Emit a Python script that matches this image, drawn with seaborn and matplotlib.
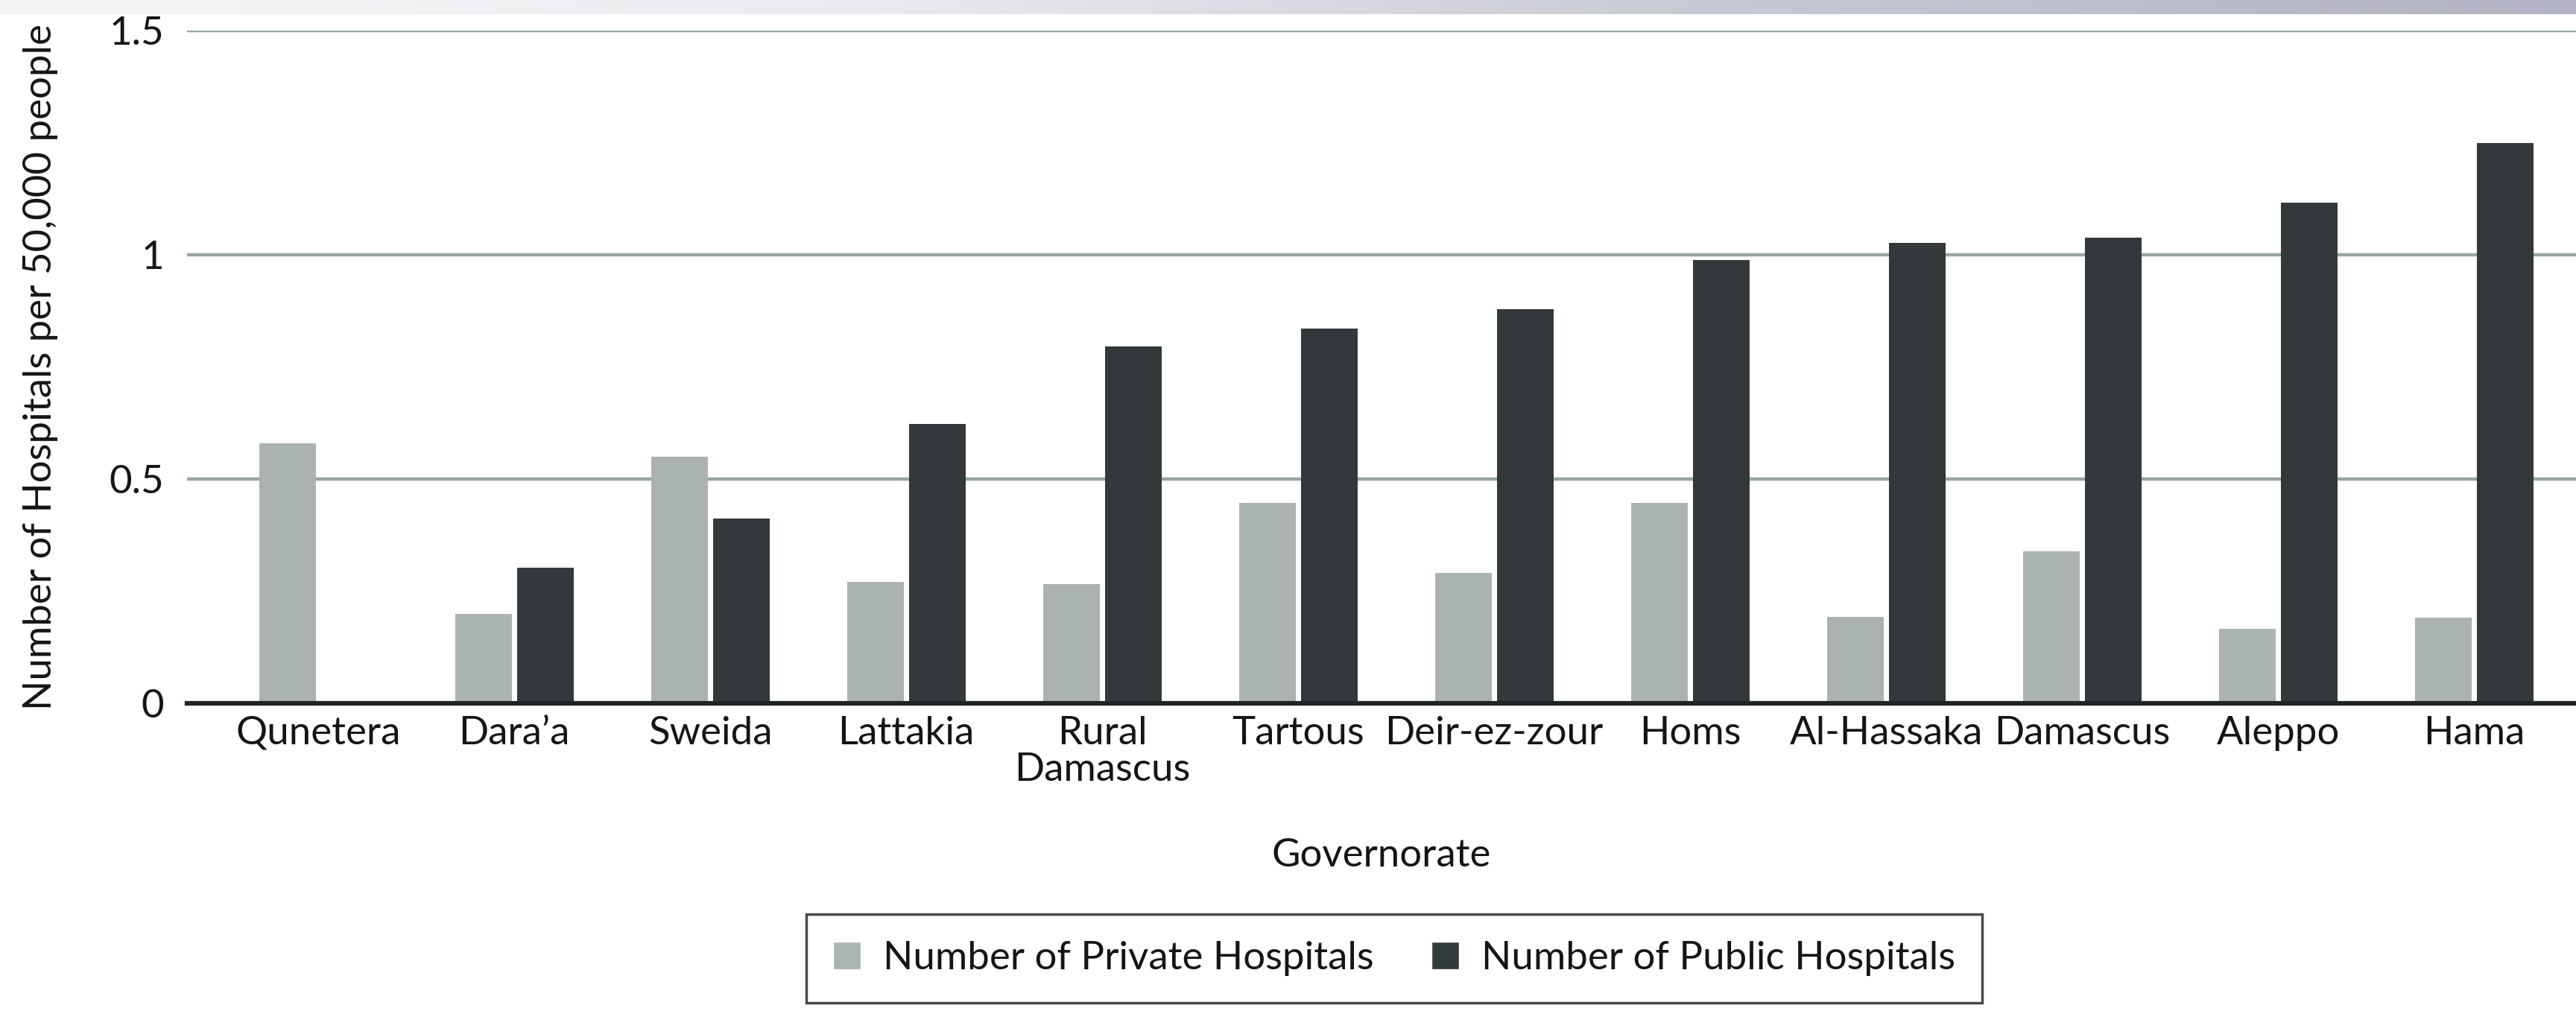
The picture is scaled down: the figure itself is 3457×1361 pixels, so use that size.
import numpy as np
import pandas as pd
import matplotlib
matplotlib.use("Agg")
import matplotlib.pyplot as plt
import seaborn as sns
from matplotlib.patches import Patch

governorates = ["Qunetera", "Dara’a", "Sweida", "Lattakia", "Rural\nDamascus", "Tartous",
                "Deir-ez-zour", "Homs", "Al-Hassaka", "Damascus", "Aleppo", "Hama"]
private_hospitals = [0.58, 0.20, 0.55, 0.27, 0.265, 0.447, 0.29, 0.447, 0.193, 0.339, 0.166, 0.191]
public_hospitals = [0.0, 0.302, 0.412, 0.623, 0.795, 0.835, 0.879, 0.989, 1.026, 1.039, 1.117, 1.250]
series_names = ["Number of Private Hospitals", "Number of Public Hospitals"]
y_ticks = [0, 0.5, 1, 1.5]
y_tick_labels = ["0", "0.5", "1", "1.5"]

light = "#aab4b2"
dark = "#323a3b"
grid_color = "#97a5a2"
text_color = "#151515"
fs = 38

df = pd.DataFrame({
    "Governorate": governorates * 2,
    "Type": [series_names[0]] * len(governorates) + [series_names[1]] * len(governorates),
    "Value": private_hospitals + public_hospitals,
})

sns.set_style("white")
plt.rcParams["font.family"] = ["Lato", "DejaVu Sans"]

W, H = 3457, 1361
fig = plt.figure(figsize=(W / 100, H / 100), dpi=100)
ax = fig.add_axes([251 / W, 1 - 944 / H, 1 - 251 / W, (944 - 41) / H])

sns.barplot(data=df, x="Governorate", y="Value", hue="Type", palette=[light, dark],
            width=0.63, gap=0.08, linewidth=0, ax=ax, legend=False)

ax.set_xlim(-0.67, 11.52)
ax.set_ylim(0, 1.5)
ax.set_yticks(y_ticks)
ax.set_yticklabels(y_tick_labels)
ax.set_axisbelow(True)
ax.yaxis.grid(True, color=grid_color, linewidth=3.2)
for side in ["top", "right", "left"]:
    ax.spines[side].set_visible(False)
ax.spines["bottom"].set_color("#1f2425")
ax.spines["bottom"].set_linewidth(4.5)
ax.spines["bottom"].set_zorder(5)
ax.tick_params(axis="y", length=0, pad=22, labelsize=fs, labelcolor=text_color)
ax.tick_params(axis="x", length=0, pad=12, labelsize=fs, labelcolor=text_color)
for lbl in ax.get_xticklabels():
    lbl.set_linespacing(1.05)

ax.set_ylabel("Number of Hospitals per 50,000 people", fontsize=fs, color=text_color)
ax.yaxis.set_label_coords(-0.054, 0.5)
ax.set_xlabel("Governorate", fontsize=fs, color=text_color)
ax.xaxis.set_label_coords(0.5, -0.2)
ax.xaxis.label.set_va("top")

handles = [Patch(facecolor=light, label=series_names[0]),
           Patch(facecolor=dark, label=series_names[1])]
leg = fig.legend(handles=handles, loc="upper center", bbox_to_anchor=(1871 / W, 1 - 1227 / H),
                 ncol=2, fontsize=fs, frameon=True, fancybox=False, borderpad=0.68,
                 borderaxespad=0, handlelength=0.7, handleheight=0.7, handletextpad=0.57,
                 columnspacing=1.46)
leg.get_frame().set_edgecolor("#1c1c1c")
leg.get_frame().set_linewidth(2.5)
for t in leg.get_texts():
    t.set_color(text_color)

# faint strip of a photo cut off at the top edge
strip = fig.add_axes([0, 1 - 19 / H, 1, 19 / H])
grad = np.linspace(0, 1, 256)
cols = np.array([[0.97, 0.96, 0.97], [0.93, 0.92, 0.94], [0.78, 0.79, 0.83], [0.70, 0.70, 0.77]])
img = np.stack([np.interp(grad, np.linspace(0, 1, 4), cols[:, k]) for k in range(3)], axis=-1)
strip.imshow(img[None, :, :], aspect="auto")
strip.axis("off")

fig.savefig("out.png", dpi=100)
